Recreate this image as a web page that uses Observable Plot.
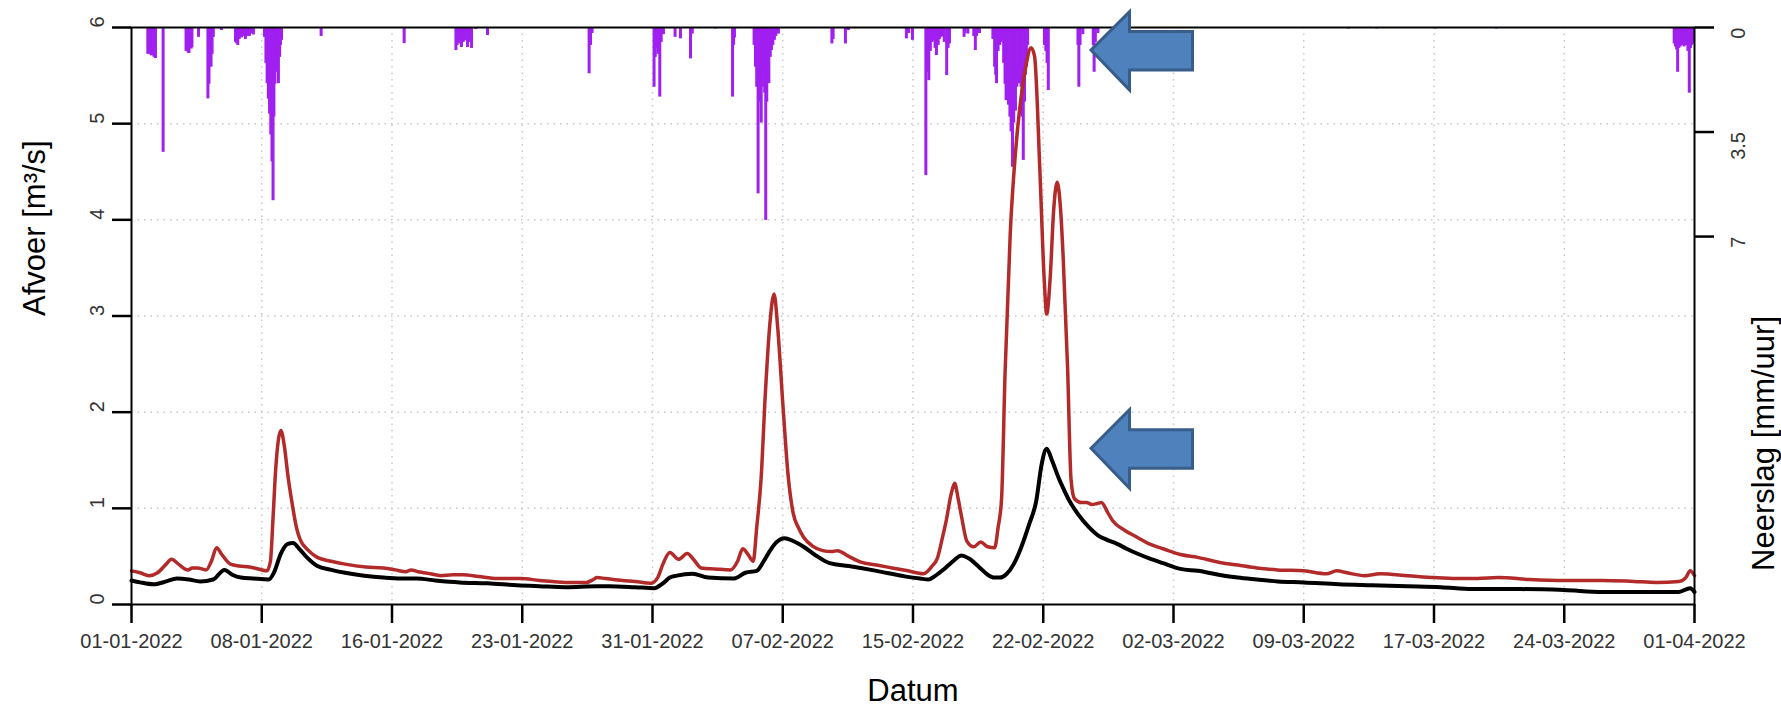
<!DOCTYPE html>
<html>
<head>
<meta charset="utf-8">
<script src="https://cdn.jsdelivr.net/npm/d3@7"></script>
<script src="https://cdn.jsdelivr.net/npm/@observablehq/plot@0.6"></script>
<style>
  html, body { margin: 0; padding: 0; background: #fff; overflow: hidden; }
  svg { display: block; }
</style>
</head>
<body>
<div id="chart"></div>
<script>
// ---------- DATA ----------
// time axis: days since 01-01-2022 00:00
const startDate = "2022-01-01";
const tickDays = [0, 7.5, 15, 22.5, 30, 37.5, 45, 52.5, 60, 67.5, 75, 82.5, 90];

// Afvoer (red series) [m3/s]
const redDays = [0.0,0.5,1.0,1.5,2.0,2.3,2.7,3.25,3.5,3.8,4.3,4.6,4.9,5.2,5.7,6.2,6.8,7.3,7.8,8.0,8.15,8.3,8.45,8.6,8.8,9.0,9.25,9.5,9.7,10.2,10.7,11.5,12.3,13.5,14.5,15.2,15.8,16.1,16.5,17.2,17.8,18.5,19.1,20.0,21.1,22.4,23.5,25.0,26.2,26.6,26.8,27.3,28.3,29.0,29.9,30.3,30.6,31.0,31.5,32.0,32.4,32.8,33.6,34.5,34.9,35.2,35.5,35.8,36.0,36.25,36.5,36.75,37.0,37.2,37.5,37.8,38.1,38.4,38.7,39.2,39.8,40.3,40.65,41.3,42.0,42.9,43.8,44.7,45.6,46.1,46.4,46.7,46.9,47.2,47.4,47.6,47.8,48.1,48.5,48.9,49.3,49.7,49.9,50.1,50.3,50.6,50.9,51.2,51.5,51.8,52.0,52.3,52.55,52.7,52.9,53.1,53.3,53.5,53.65,53.9,54.1,54.3,54.7,55.0,55.3,55.6,55.85,56.2,56.5,57.2,57.9,58.6,59.4,60.4,61.4,62.6,63.7,64.8,66.0,67.5,68.8,69.4,70.0,71.0,71.9,73.5,75.0,76.3,77.5,78.7,80.5,82.5,84.7,86.5,87.8,89.1,89.5,89.75,90.0];
const redValues = [0.35,0.33,0.30,0.33,0.42,0.47,0.42,0.36,0.38,0.38,0.36,0.45,0.59,0.52,0.42,0.40,0.39,0.37,0.35,0.45,0.90,1.40,1.70,1.81,1.65,1.35,1.05,0.80,0.68,0.56,0.49,0.45,0.42,0.39,0.38,0.36,0.34,0.36,0.34,0.32,0.30,0.31,0.31,0.29,0.27,0.27,0.25,0.23,0.23,0.26,0.28,0.27,0.25,0.24,0.22,0.28,0.42,0.54,0.47,0.53,0.46,0.38,0.37,0.36,0.45,0.58,0.52,0.45,0.80,1.30,2.20,2.90,3.23,2.90,2.10,1.36,0.95,0.80,0.70,0.61,0.56,0.55,0.56,0.50,0.44,0.41,0.38,0.35,0.32,0.40,0.48,0.70,0.86,1.15,1.26,1.10,0.91,0.66,0.60,0.65,0.60,0.59,0.80,1.10,2.40,3.86,4.70,5.24,5.60,5.79,5.70,4.54,3.40,3.02,3.40,4.10,4.39,4.10,3.60,2.47,1.30,1.10,1.06,1.06,1.04,1.05,1.06,0.96,0.87,0.77,0.70,0.63,0.58,0.52,0.49,0.44,0.41,0.38,0.36,0.35,0.32,0.35,0.33,0.30,0.32,0.30,0.28,0.27,0.27,0.28,0.26,0.25,0.25,0.24,0.23,0.24,0.28,0.35,0.30];

// Afvoer (black series) [m3/s]
const blackDays = [0.0,0.5,1.27,2.0,2.6,3.3,3.95,4.7,5.35,5.8,6.3,7.0,7.9,8.2,8.6,9.0,9.3,9.7,10.1,10.7,11.5,12.3,13.4,14.5,15.5,16.4,17.5,18.9,20.5,22.2,23.5,25.0,26.8,27.5,29.0,30.1,30.6,31.0,31.4,32.3,33.2,34.7,35.35,36.0,36.4,36.7,37.1,37.6,38.1,38.7,39.4,40.2,41.3,42.9,44.6,45.4,45.9,46.3,46.8,47.3,47.8,48.2,48.8,49.3,49.7,50.0,50.4,50.8,51.2,51.7,52.1,52.4,52.7,53.0,53.4,53.7,54.0,54.5,55.1,55.65,56.2,56.75,57.3,57.9,58.6,59.4,60.4,61.4,62.6,63.7,64.8,66.0,67.5,69.5,71.4,73.5,75.4,77.2,80.0,82.5,84.7,87.0,89.1,89.75,90.0];
const blackValues = [0.25,0.23,0.21,0.24,0.27,0.26,0.24,0.26,0.36,0.31,0.28,0.27,0.26,0.33,0.53,0.63,0.64,0.57,0.49,0.40,0.36,0.33,0.30,0.28,0.27,0.27,0.25,0.23,0.22,0.20,0.19,0.18,0.19,0.19,0.18,0.17,0.22,0.28,0.30,0.32,0.28,0.27,0.33,0.35,0.45,0.54,0.64,0.69,0.66,0.60,0.51,0.43,0.40,0.35,0.29,0.27,0.26,0.30,0.37,0.45,0.51,0.48,0.39,0.31,0.28,0.28,0.32,0.42,0.58,0.84,1.08,1.45,1.62,1.50,1.31,1.19,1.08,0.94,0.81,0.72,0.67,0.63,0.58,0.53,0.48,0.43,0.37,0.35,0.31,0.28,0.26,0.24,0.23,0.21,0.20,0.19,0.18,0.16,0.16,0.15,0.13,0.13,0.13,0.17,0.13];

// Neerslag [mm/uur]
const rainDays = [0.94,1.02,1.10,1.15,1.22,1.30,1.38,1.82,3.14,3.20,3.26,3.31,3.38,3.44,3.48,3.86,4.40,4.46,4.52,4.58,4.64,4.71,5.18,5.99,6.06,6.12,6.20,6.27,6.33,6.40,6.48,6.56,6.63,6.70,6.79,6.88,6.95,7.02,7.66,7.74,7.81,7.88,7.95,8.02,8.09,8.15,8.20,8.26,8.32,8.39,8.46,8.53,8.58,8.64,10.92,15.70,18.68,18.75,18.82,18.90,19.00,19.10,19.20,19.35,19.45,19.58,19.83,20.50,26.35,26.43,26.52,30.09,30.16,30.24,30.32,30.42,30.50,30.63,31.30,31.61,32.19,32.29,33.62,34.61,34.67,34.72,35.85,35.93,36.00,36.08,36.15,36.20,36.26,36.33,36.40,36.46,36.52,36.58,36.64,36.70,36.78,36.85,36.93,37.02,37.10,37.25,40.33,40.40,41.11,41.28,44.62,44.75,44.97,45.74,45.80,45.91,46.00,46.10,46.18,46.27,46.35,46.45,46.52,46.61,46.70,46.80,46.94,47.02,47.10,47.94,48.00,48.16,48.50,48.59,48.66,48.83,49.60,49.70,49.76,49.81,49.90,50.00,50.07,50.14,50.22,50.30,50.36,50.43,50.50,50.58,50.65,50.73,50.80,50.90,50.98,51.08,51.16,51.22,51.29,51.35,51.42,51.48,51.53,51.60,52.57,52.65,52.72,52.79,54.50,54.55,54.62,54.78,55.38,55.43,55.50,55.65,70.08,71.70,75.07,78.60,88.83,88.90,88.97,89.03,89.10,89.18,89.25,89.32,89.40,89.48,89.55,89.62,89.70,89.77,89.84,89.90];
const rainMm = [0.90,0.85,0.92,0.95,0.90,1.00,1.04,4.18,0.80,0.75,0.85,0.87,0.70,0.72,0.67,0.33,2.39,1.90,1.20,1.33,0.90,0.33,0.10,0.50,0.55,0.60,0.40,0.30,0.35,0.25,0.30,0.40,0.30,0.25,0.30,0.22,0.20,0.25,0.33,1.20,1.88,2.40,2.90,3.60,4.50,5.80,3.00,1.90,1.33,1.50,1.88,1.00,0.60,0.43,0.30,0.54,0.77,0.60,0.50,0.55,0.67,0.50,0.45,0.67,0.50,0.70,0.07,0.27,1.55,0.60,0.20,2.00,1.00,0.70,0.90,2.33,0.50,0.24,0.33,0.38,1.05,0.22,0.05,2.33,0.60,0.35,0.60,1.33,2.00,5.57,2.50,1.60,3.20,2.00,1.50,2.20,6.46,2.50,1.60,1.88,1.00,0.77,0.60,0.43,0.30,0.22,0.55,0.40,0.55,0.10,0.38,0.20,0.43,4.96,1.50,1.78,0.80,0.50,0.43,0.70,0.94,0.60,0.40,0.33,0.30,0.50,1.61,0.70,0.55,0.33,0.20,0.22,0.30,0.77,0.30,0.20,0.40,1.33,1.60,1.88,0.80,0.60,0.50,0.43,1.20,1.90,2.45,2.20,2.60,3.00,3.50,4.68,3.20,2.80,2.00,1.88,1.40,2.00,3.00,4.45,2.50,1.60,1.33,0.60,0.60,0.80,1.20,2.11,0.60,2.00,0.60,0.24,0.60,1.50,0.50,0.20,0.05,0.05,0.05,0.05,0.55,0.65,0.75,1.50,0.70,0.65,0.60,0.60,0.65,0.60,0.60,0.80,2.20,0.70,0.60,0.55];

// axis tick values and labels
const afvoerTicks = [0, 1, 2, 3, 4, 5, 6];
const afvoerTickLabels = ["0", "1", "2", "3", "4", "5", "6"];
const neerslagTicks = [0, 3.5, 7];
const neerslagTickLabels = ["0", "3.5", "7"];
const neerslagAxisMax = 19.32; // mm/uur at the bottom of the (inverted) right axis

// annotation arrows (tip position in data units)
const arrowTipDays = [55.28, 55.28];
const arrowTipValues = [5.76, 1.62];

// ---------- BUILD ----------
const t0 = Date.parse(startDate + "T00:00:00Z");
const toDate = d => new Date(t0 + d * 864e5);
const yMax = 6;
const rainToY = p => yMax * (1 - p / neerslagAxisMax);

const red = redDays.map((d, i) => ({date: toDate(d), value: redValues[i]}));
const black = blackDays.map((d, i) => ({date: toDate(d), value: blackValues[i]}));
const rain = rainDays.map((d, i) => ({date: toDate(d), mm: rainMm[i]}));
const tickDates = tickDays.map(toDate);
const fmt = d3.utcFormat("%d-%m-%Y");
const arrows = arrowTipDays.map((d, i) => ({date: toDate(d), value: arrowTipValues[i]}));

const gridStyle = {stroke: "#c8c8c8", strokeWidth: 1.5, strokeDasharray: "1.5,5"};
const labelColor = "#333";

const arrowMark = (index, scales) => {
  const g = d3.create("svg:g");
  for (const a of arrows) {
    const tx = scales.x(a.date), ty = scales.y(a.value);
    const pts = [[0,0],[38.5,-38.5],[38.5,-18.5],[101.5,-18.5],[101.5,20],[38.5,20],[38.5,40]];
    g.append("path")
      .attr("d", "M" + pts.map(([dx, dy]) => `${tx + dx},${ty + dy}`).join("L") + "Z")
      .attr("fill", "#4F81BD")
      .attr("stroke", "#385D8A")
      .attr("stroke-width", 3)
      .attr("stroke-linejoin", "miter");
  }
  return g.node();
};

const chart = Plot.plot({
  width: 1781,
  height: 714,
  marginLeft: 131,
  marginRight: 87,
  marginTop: 27,
  marginBottom: 110,
  style: {fontFamily: "'Liberation Sans', Arial, sans-serif", fontSize: "20px", background: "#fff"},
  x: {type: "utc", domain: [toDate(0), toDate(90)], axis: null},
  y: {domain: [0, yMax], axis: null},
  marks: [
    Plot.ruleY(afvoerTicks.slice(1, -1), gridStyle),
    Plot.ruleX(tickDates.slice(1, -1), gridStyle),
    Plot.ruleX(rain, {x: "date", y1: yMax, y2: d => rainToY(d.mm), stroke: "#A020F0", strokeWidth: 3}),
    Plot.line(red, {x: "date", y: "value", stroke: "#B22A2A", strokeWidth: 3.5, curve: "monotone-x"}),
    Plot.line(black, {x: "date", y: "value", stroke: "#000", strokeWidth: 4, curve: "monotone-x"}),
    Plot.frame({stroke: "#000", strokeWidth: 2}),
    Plot.axisY({anchor: "left", ticks: afvoerTicks, tickSize: 19, strokeWidth: 2.5, tickFormat: () => "", label: null}),
    Plot.axisY({anchor: "right", ticks: neerslagTicks.map(rainToY), tickSize: 19, strokeWidth: 2.5, tickFormat: () => "", label: null}),
    Plot.axisX({anchor: "bottom", ticks: tickDates, tickSize: 19, strokeWidth: 2.5, tickFormat: () => "", label: null}),
    Plot.text(afvoerTicks, {y: d => d, text: (d, i) => afvoerTickLabels[i], frameAnchor: "left", dx: -34, rotate: -90, fill: labelColor, fontSize: 20}),
    Plot.text(neerslagTicks, {y: d => rainToY(d), text: (d, i) => neerslagTickLabels[i], frameAnchor: "right", dx: 44, rotate: -90, fill: labelColor, fontSize: 20}),
    Plot.text(tickDates, {x: d => d, text: d => fmt(d), frameAnchor: "bottom", dy: 43, fill: labelColor, fontSize: 20}),
    Plot.text(["Afvoer [m³/s]"], {frameAnchor: "left", dx: -96, rotate: -90, fontSize: 31, fill: "#000"}),
    Plot.text(["Neerslag [mm/uur]"], {frameAnchor: "right", dx: 70, rotate: -90, fontSize: 31, fill: "#000"}),
    Plot.text(["Datum"], {frameAnchor: "bottom", dy: 96, fontSize: 31, fill: "#000"}),
    arrowMark
  ]
});

document.getElementById("chart").appendChild(chart);
</script>
</body>
</html>
